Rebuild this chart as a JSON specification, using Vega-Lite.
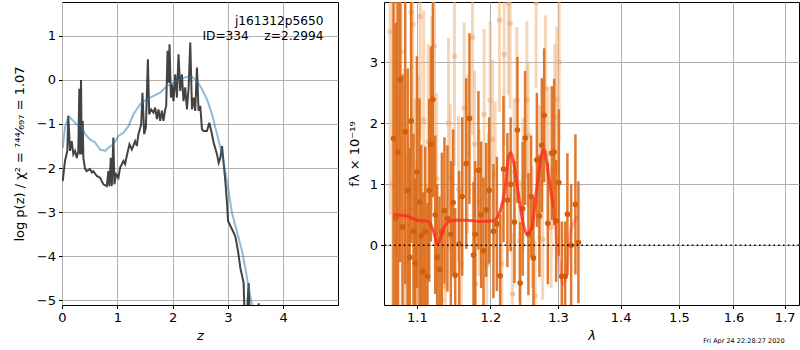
{
  "$schema": "https://vega.github.io/schema/vega-lite/v6.json",
  "padding": {"left": 12, "top": 1, "right": 0, "bottom": 0},
  "background": "white",
  "spacing": 8,
  "datasets": {
    "pz": [
      {"z":0.013,"v":-2.30},{"z":0.054,"v":-1.84},{"z":0.096,"v":-1.61},{"z":0.114,"v":-0.82},{"z":0.145,"v":-1.61},{"z":0.176,"v":-1.39},{"z":0.205,"v":-1.69},{"z":0.236,"v":-1.61},{"z":0.266,"v":-1.77},{"z":0.295,"v":-1.61},{"z":0.313,"v":-0.2},{"z":0.326,"v":-1.69},{"z":0.344,"v":0.0},{"z":0.357,"v":-1.69},{"z":0.375,"v":-0.93},{"z":0.386,"v":-1.77},{"z":0.417,"v":-2.02},{"z":0.447,"v":-2.07},{"z":0.507,"v":-2.02},{"z":0.538,"v":-2.10},{"z":0.567,"v":-2.07},{"z":0.629,"v":-2.18},{"z":0.688,"v":-2.22},{"z":0.748,"v":-2.37},{"z":0.810,"v":-2.41},{"z":0.839,"v":-2.07},{"z":0.857,"v":-2.41},{"z":0.882,"v":-1.77},{"z":0.900,"v":-2.41},{"z":0.929,"v":-1.31},{"z":0.947,"v":-2.37},{"z":0.978,"v":-2.14},{"z":1.020,"v":-2.22},{"z":1.051,"v":-1.99},{"z":1.111,"v":-1.84},{"z":1.141,"v":-1.91},{"z":1.172,"v":-1.72},{"z":1.219,"v":-1.46},{"z":1.263,"v":-1.58},{"z":1.322,"v":-1.39},{"z":1.353,"v":-1.50},{"z":1.382,"v":-1.23},{"z":1.431,"v":-1.01},{"z":1.455,"v":-0.29},{"z":1.486,"v":-1.23},{"z":1.516,"v":-1.08},{"z":1.553,"v":0.47},{"z":1.576,"v":-0.78},{"z":1.612,"v":-0.67},{"z":1.654,"v":-0.74},{"z":1.685,"v":-0.63},{"z":1.716,"v":-0.89},{"z":1.745,"v":-0.67},{"z":1.775,"v":-0.93},{"z":1.806,"v":-0.70},{"z":1.835,"v":-0.93},{"z":1.866,"v":-0.67},{"z":1.884,"v":-0.59},{"z":1.908,"v":0.66},{"z":1.926,"v":-0.06},{"z":1.944,"v":0.81},{"z":1.969,"v":-0.40},{"z":1.987,"v":-0.10},{"z":2.016,"v":-0.48},{"z":2.047,"v":0.13},{"z":2.078,"v":-0.40},{"z":2.107,"v":0.58},{"z":2.138,"v":-0.25},{"z":2.168,"v":0.13},{"z":2.197,"v":-0.48},{"z":2.228,"v":-0.17},{"z":2.259,"v":-0.67},{"z":2.288,"v":-0.20},{"z":2.319,"v":0.85},{"z":2.350,"v":-0.67},{"z":2.379,"v":-0.40},{"z":2.409,"v":-0.70},{"z":2.440,"v":0.28},{"z":2.469,"v":-0.70},{"z":2.500,"v":-0.59},{"z":2.531,"v":-1.12},{"z":2.560,"v":-1.16},{"z":2.621,"v":-1.16},{"z":2.663,"v":-0.97},{"z":2.699,"v":-1.16},{"z":2.741,"v":-1.42},{"z":2.803,"v":-1.69},{"z":2.832,"v":-1.88},{"z":2.862,"v":-1.77},{"z":2.893,"v":-1.50},{"z":2.922,"v":-1.88},{"z":2.953,"v":-2.30},{"z":2.984,"v":-2.80},{"z":3.002,"v":-3.20},{"z":3.074,"v":-3.39},{"z":3.134,"v":-3.55},{"z":3.183,"v":-3.89},{"z":3.225,"v":-4.27},{"z":3.284,"v":-4.61},{"z":3.303,"v":-5.5},{"z":3.333,"v":-5.5},{"z":3.375,"v":-4.61},{"z":3.397,"v":-5.5},{"z":3.542,"v":-5.5},{"z":3.556,"v":-5.07},{"z":3.569,"v":-5.5},{"z":3.768,"v":-5.8}
    ],
    "chi": [
      {"z":0.013,"v":-1.54},{"z":0.054,"v":-1.08},{"z":0.114,"v":-0.82},{"z":0.176,"v":-0.89},{"z":0.266,"v":-1.01},{"z":0.357,"v":-1.05},{"z":0.417,"v":-1.23},{"z":0.507,"v":-1.35},{"z":0.598,"v":-1.42},{"z":0.688,"v":-1.58},{"z":0.779,"v":-1.61},{"z":0.839,"v":-1.54},{"z":0.929,"v":-1.46},{"z":1.020,"v":-1.27},{"z":1.111,"v":-1.20},{"z":1.201,"v":-1.05},{"z":1.292,"v":-0.78},{"z":1.413,"v":-0.55},{"z":1.534,"v":-0.44},{"z":1.654,"v":-0.36},{"z":1.775,"v":-0.29},{"z":1.897,"v":-0.14},{"z":2.016,"v":-0.06},{"z":2.138,"v":0.02},{"z":2.259,"v":0.07},{"z":2.350,"v":0.07},{"z":2.440,"v":-0.02},{"z":2.531,"v":-0.21},{"z":2.621,"v":-0.44},{"z":2.712,"v":-0.78},{"z":2.803,"v":-1.23},{"z":2.893,"v":-1.69},{"z":2.984,"v":-2.30},{"z":3.074,"v":-3.02},{"z":3.165,"v":-3.45},{"z":3.255,"v":-3.89},{"z":3.315,"v":-4.27},{"z":3.375,"v":-4.72},{"z":3.437,"v":-5.10},{"z":3.478,"v":-5.5}
    ],
    "dark": [
      {"lam":1.0700,"f":1.75,"err":3.0},{"lam":1.0728,"f":0.45,"err":3.2},{"lam":1.0753,"f":1.53,"err":2.8},{"lam":1.0785,"f":2.72,"err":3.0},{"lam":1.0814,"f":0.30,"err":2.5},{"lam":1.0849,"f":1.86,"err":2.5},{"lam":1.0881,"f":0.90,"err":2.0},{"lam":1.0907,"f":-0.20,"err":1.8},{"lam":1.0926,"f":2.04,"err":2.0},{"lam":1.0956,"f":0.23,"err":1.6},{"lam":1.0978,"f":-0.30,"err":1.4},{"lam":1.1000,"f":1.20,"err":1.9},{"lam":1.1034,"f":0.71,"err":1.7},{"lam":1.1056,"f":0.15,"err":1.5},{"lam":1.1078,"f":-0.43,"err":1.3},{"lam":1.1109,"f":0.22,"err":1.4},{"lam":1.1139,"f":-0.51,"err":1.2},{"lam":1.1161,"f":0.90,"err":1.5},{"lam":1.1184,"f":1.66,"err":1.6},{"lam":1.1210,"f":2.39,"err":1.6},{"lam":1.1241,"f":0.50,"err":1.3},{"lam":1.1267,"f":-0.20,"err":1.2},{"lam":1.1298,"f":-0.40,"err":1.2},{"lam":1.1330,"f":0.22,"err":1.3},{"lam":1.1365,"f":0.57,"err":1.2},{"lam":1.1405,"f":0.44,"err":1.2},{"lam":1.1451,"f":0.18,"err":1.2},{"lam":1.1483,"f":0.70,"err":1.2},{"lam":1.1510,"f":-0.49,"err":1.1},{"lam":1.1564,"f":0.02,"err":1.2},{"lam":1.1606,"f":0.80,"err":1.3},{"lam":1.1661,"f":1.34,"err":1.4},{"lam":1.1706,"f":2.08,"err":1.4},{"lam":1.1762,"f":-0.16,"err":1.2},{"lam":1.1785,"f":0.18,"err":1.2},{"lam":1.1831,"f":1.23,"err":1.3},{"lam":1.1869,"f":0.50,"err":1.2},{"lam":1.1902,"f":-0.09,"err":1.2},{"lam":1.1940,"f":0.58,"err":1.1},{"lam":1.1982,"f":0.90,"err":1.2},{"lam":1.2043,"f":0.23,"err":1.1},{"lam":1.2092,"f":0.35,"err":1.1},{"lam":1.2139,"f":-0.50,"err":1.0},{"lam":1.2187,"f":1.25,"err":1.2},{"lam":1.2244,"f":0.74,"err":1.1},{"lam":1.2291,"f":1.00,"err":1.1},{"lam":1.2346,"f":0.38,"err":1.0},{"lam":1.2390,"f":1.89,"err":1.2},{"lam":1.2430,"f":-0.62,"err":1.0},{"lam":1.2467,"f":0.60,"err":1.1},{"lam":1.2503,"f":1.76,"err":1.1},{"lam":1.2552,"f":0.18,"err":1.0},{"lam":1.2592,"f":0.80,"err":1.0},{"lam":1.2627,"f":-0.21,"err":1.0},{"lam":1.2678,"f":1.40,"err":1.1},{"lam":1.2717,"f":0.48,"err":1.0},{"lam":1.2753,"f":1.64,"err":1.1},{"lam":1.2788,"f":2.13,"err":1.1},{"lam":1.2844,"f":0.36,"err":1.0},{"lam":1.2905,"f":1.51,"err":1.1},{"lam":1.2940,"f":1.53,"err":1.2},{"lam":1.2971,"f":0.40,"err":1.0},{"lam":1.3012,"f":1.03,"err":1.2},{"lam":1.3058,"f":-0.51,"err":0.9},{"lam":1.3109,"f":-0.51,"err":0.9},{"lam":1.3145,"f":0.51,"err":1.0},{"lam":1.3203,"f":0.00,"err":1.0},{"lam":1.3270,"f":0.67,"err":1.15},{"lam":1.3317,"f":0.05,"err":1.0}
    ],
    "light": [
      {"lam":1.0658,"f":3.5,"err":3.0},{"lam":1.0690,"f":1.0,"err":3.0},{"lam":1.0734,"f":2.3,"err":2.5},{"lam":1.0766,"f":0.0,"err":2.5},{"lam":1.0794,"f":3.18,"err":2.5},{"lam":1.0836,"f":0.9,"err":2.0},{"lam":1.0862,"f":-0.3,"err":1.8},{"lam":1.0891,"f":0.14,"err":1.8},{"lam":1.0926,"f":3.82,"err":2.5},{"lam":1.0948,"f":3.62,"err":2.0},{"lam":1.0971,"f":0.6,"err":1.8},{"lam":1.0991,"f":-0.23,"err":1.6},{"lam":1.1017,"f":1.0,"err":1.8},{"lam":1.1043,"f":3.75,"err":2.0},{"lam":1.1089,"f":2.05,"err":1.8},{"lam":1.1122,"f":-0.5,"err":1.5},{"lam":1.1148,"f":1.7,"err":1.6},{"lam":1.1195,"f":2.15,"err":1.6},{"lam":1.1231,"f":3.27,"err":2.0},{"lam":1.1261,"f":1.1,"err":1.4},{"lam":1.1321,"f":-0.91,"err":1.2},{"lam":1.1375,"f":-0.67,"err":1.3},{"lam":1.1419,"f":2.0,"err":1.4},{"lam":1.1442,"f":1.11,"err":1.2},{"lam":1.1500,"f":3.10,"err":1.8},{"lam":1.1555,"f":0.92,"err":1.2},{"lam":1.1592,"f":-0.3,"err":1.2},{"lam":1.1633,"f":2.25,"err":1.4},{"lam":1.1681,"f":1.5,"err":1.3},{"lam":1.1748,"f":3.41,"err":1.6},{"lam":1.1776,"f":1.66,"err":1.2},{"lam":1.1792,"f":-0.64,"err":1.0},{"lam":1.1841,"f":0.7,"err":1.2},{"lam":1.1911,"f":2.15,"err":1.4},{"lam":1.1947,"f":-0.3,"err":1.0},{"lam":1.1972,"f":0.74,"err":1.1},{"lam":1.1996,"f":2.38,"err":1.3},{"lam":1.2028,"f":1.74,"err":1.3},{"lam":1.2067,"f":1.16,"err":1.2},{"lam":1.2129,"f":3.69,"err":1.5},{"lam":1.2163,"f":-0.30,"err":1.0},{"lam":1.2197,"f":3.13,"err":1.5},{"lam":1.2259,"f":3.96,"err":1.5},{"lam":1.2283,"f":3.64,"err":1.4},{"lam":1.2317,"f":-0.80,"err":1.0},{"lam":1.2342,"f":1.2,"err":1.2},{"lam":1.2381,"f":2.38,"err":1.2},{"lam":1.2420,"f":0.07,"err":1.0},{"lam":1.2474,"f":1.0,"err":1.1},{"lam":1.2529,"f":2.38,"err":1.3},{"lam":1.2548,"f":1.81,"err":1.2},{"lam":1.2607,"f":0.3,"err":1.0},{"lam":1.2652,"f":-0.83,"err":0.9},{"lam":1.2667,"f":3.98,"err":1.4},{"lam":1.2712,"f":1.2,"err":1.1},{"lam":1.2765,"f":0.1,"err":1.0},{"lam":1.2807,"f":2.57,"err":1.2},{"lam":1.2848,"f":1.5,"err":1.1},{"lam":1.2894,"f":0.3,"err":1.0},{"lam":1.2950,"f":2.1,"err":1.2},{"lam":1.2981,"f":2.39,"err":1.2},{"lam":1.3017,"f":3.0,"err":1.3}
    ],
    "model": [
      {"lam":1.0700,"f":0.50,"part":"a"},{"lam":1.0871,"f":0.48,"part":"a"},{"lam":1.1000,"f":0.41,"part":"a"},{"lam":1.1152,"f":0.39,"part":"a"},{"lam":1.1218,"f":0.23,"part":"a"},{"lam":1.1271,"f":0.02,"part":"a"},{"lam":1.1307,"f":0.10,"part":"a"},{"lam":1.1374,"f":0.33,"part":"a"},{"lam":1.1487,"f":0.41,"part":"a"},{"lam":1.1670,"f":0.41,"part":"a"},{"lam":1.1855,"f":0.39,"part":"a"},{"lam":1.2043,"f":0.40,"part":"a"},{"lam":1.2139,"f":0.56,"part":"a"},{"lam":1.2211,"f":0.94,"part":"a"},{"lam":1.2259,"f":1.44,"part":"a"},{"lam":1.2293,"f":1.52,"part":"a"},{"lam":1.2331,"f":1.38,"part":"a"},{"lam":1.2404,"f":0.84,"part":"a"},{"lam":1.2478,"f":0.34,"part":"a"},{"lam":1.2528,"f":0.18,"part":"a"},{"lam":1.2602,"f":0.29,"part":"a"},{"lam":1.2677,"f":0.94,"part":"a"},{"lam":1.2752,"f":1.49,"part":"a"},{"lam":1.2787,"f":1.57,"part":"a"},{"lam":1.2852,"f":1.16,"part":"a"},{"lam":1.2928,"f":0.62,"part":"a"},
      {"lam":1.2928,"f":0.62,"part":"b"},{"lam":1.3005,"f":-0.15,"part":"b"},{"lam":1.3073,"f":-0.64,"part":"b"},{"lam":1.3135,"f":-0.48,"part":"b"},{"lam":1.3186,"f":0.18,"part":"b"},{"lam":1.3301,"f":0.48,"part":"b"}
    ]
  },
  "hconcat": [
    {
      "width": 276,
      "height": 303,
      "layer": [
        {
          "data": {"name": "pz"},
          "mark": {"type": "line", "color": "#222222", "opacity": 0.85, "strokeWidth": 2, "clip": true},
          "encoding": {
            "x": {"field": "z", "type": "quantitative", "title": "z", "scale": {"domain": [0, 4.99], "nice": false, "zero": false},
                  "axis": {"values": [0, 1, 2, 3, 4], "format": "d", "titleFontStyle": "italic", "titlePadding": 5}},
            "y": {"field": "v", "type": "quantitative", "title": "log p(z) / χ² = ⁷⁴⁴⁄₆₉₇ = 1.07", "scale": {"domain": [-5.11, 1.77], "nice": false, "zero": false},
                  "axis": {"values": [-5, -4, -3, -2, -1, 0, 1], "format": "d", "titlePadding": 10}}
          }
        },
        {
          "data": {"name": "chi"},
          "mark": {"type": "line", "color": "#1f77b4", "opacity": 0.5, "strokeWidth": 2, "clip": true},
          "encoding": {
            "x": {"field": "z", "type": "quantitative", "title": "z"},
            "y": {"field": "v", "type": "quantitative", "title": "log p(z) / χ² = ⁷⁴⁴⁄₆₉₇ = 1.07"}
          }
        },
        {
          "data": {"values": [{"z": 4.73, "v": 1.34, "label": "j161312p5650"}, {"z": 4.73, "v": 1.0, "label": "ID=334\u00a0\u00a0\u00a0\u00a0z=2.2994"}]},
          "mark": {"type": "text", "align": "right", "baseline": "middle", "fontSize": 12.2, "font": "DejaVu Sans", "color": "black"},
          "encoding": {
            "x": {"field": "z", "type": "quantitative", "title": "z"},
            "y": {"field": "v", "type": "quantitative", "title": "log p(z) / χ² = ⁷⁴⁴⁄₆₉₇ = 1.07"},
            "text": {"field": "label"}
          }
        }
      ]
    },
    {
      "width": 415,
      "height": 303,
      "layer": [
        {
          "data": {"name": "light"},
          "mark": {"type": "errorbar", "clip": true, "color": "#f0b47c", "opacity": 0.55, "rule": {"strokeWidth": 3}},
          "encoding": {
            "x": {"field": "lam", "type": "quantitative", "title": "λ", "scale": {"type": "log", "domain": [1.058, 1.729], "nice": false, "zero": false},
                  "axis": {"values": [1.1, 1.2, 1.3, 1.4, 1.5, 1.6, 1.7], "format": ".1f", "titleFontStyle": "italic", "titlePadding": 5}},
            "y": {"field": "f", "type": "quantitative", "title": "fλ × 10⁻¹⁹", "scale": {"domain": [-0.98, 3.99], "nice": false, "zero": false},
                  "axis": {"values": [0, 1, 2, 3], "format": "d", "titlePadding": 8}},
            "yError": {"field": "err"}
          }
        },
        {
          "data": {"name": "light"},
          "mark": {"type": "point", "filled": true, "clip": true, "color": "#eea36a", "opacity": 0.5, "size": 30},
          "encoding": {
            "x": {"field": "lam", "type": "quantitative", "title": "λ"},
            "y": {"field": "f", "type": "quantitative", "title": "fλ × 10⁻¹⁹"}
          }
        },
        {
          "data": {"name": "dark"},
          "mark": {"type": "errorbar", "clip": true, "color": "#dc6a18", "opacity": 0.9, "rule": {"strokeWidth": 2.5}},
          "encoding": {
            "x": {"field": "lam", "type": "quantitative", "title": "λ"},
            "y": {"field": "f", "type": "quantitative", "title": "fλ × 10⁻¹⁹"},
            "yError": {"field": "err"}
          }
        },
        {
          "data": {"name": "dark"},
          "mark": {"type": "point", "filled": true, "clip": true, "color": "#d2600a", "opacity": 1, "size": 32},
          "encoding": {
            "x": {"field": "lam", "type": "quantitative", "title": "λ"},
            "y": {"field": "f", "type": "quantitative", "title": "fλ × 10⁻¹⁹"}
          }
        },
        {
          "data": {"name": "model"},
          "transform": [{"filter": "datum.part == 'a'"}],
          "mark": {"type": "line", "color": "#ff2a1a", "opacity": 0.8, "strokeWidth": 3, "interpolate": "monotone", "clip": true},
          "encoding": {
            "x": {"field": "lam", "type": "quantitative", "title": "λ"},
            "y": {"field": "f", "type": "quantitative", "title": "fλ × 10⁻¹⁹"}
          }
        },
        {
          "data": {"name": "model"},
          "transform": [{"filter": "datum.part == 'b'"}],
          "mark": {"type": "line", "color": "#ff2a1a", "opacity": 0.3, "strokeWidth": 3, "interpolate": "monotone", "clip": true},
          "encoding": {
            "x": {"field": "lam", "type": "quantitative", "title": "λ"},
            "y": {"field": "f", "type": "quantitative", "title": "fλ × 10⁻¹⁹"}
          }
        },
        {
          "data": {"values": [{"zero": 0}]},
          "mark": {"type": "rule", "color": "black", "strokeWidth": 1.6, "strokeDash": [1.6, 3.2]},
          "encoding": {
            "y": {"field": "zero", "type": "quantitative", "title": "fλ × 10⁻¹⁹"}
          }
        },
        {
          "data": {"values": [{"lam": 1.62, "f": -1.57, "label": "Fri Apr 24 22:28:27 2020"}]},
          "mark": {"type": "text", "fontSize": 6.5, "font": "DejaVu Sans", "color": "black", "clip": false, "baseline": "middle"},
          "encoding": {
            "x": {"field": "lam", "type": "quantitative", "title": "λ"},
            "y": {"field": "f", "type": "quantitative", "title": "fλ × 10⁻¹⁹"},
            "text": {"field": "label"}
          }
        }
      ]
    }
  ],
  "config": {
    "font": "DejaVu Sans",
    "view": {"stroke": "black", "strokeWidth": 1},
    "axis": {
      "domain": false, "grid": true, "gridColor": "#b0b0b0", "gridWidth": 1,
      "tickColor": "black", "tickSize": 3.5, "labelPadding": 3, "labelFlush": false,
      "labelFont": "DejaVu Sans", "labelFontSize": 13, "labelColor": "black",
      "titleFont": "DejaVu Sans", "titleFontSize": 13, "titleFontWeight": "normal", "titleColor": "black"
    }
  }
}
